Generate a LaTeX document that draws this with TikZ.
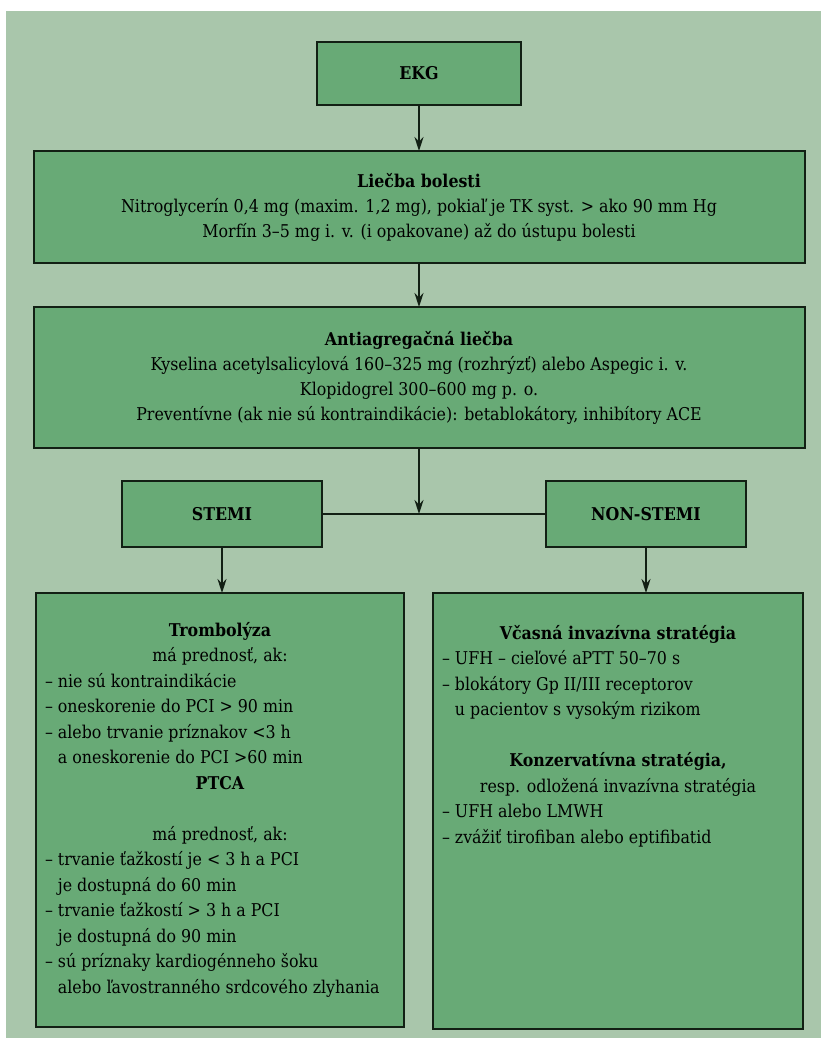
\documentclass[tikz,border=0pt]{standalone}
\usepackage{fontspec}
\setmainfont{DejaVu Serif Condensed}
\usepackage{xcolor}
\usetikzlibrary{arrows.meta}
\definecolor{bgreen}{RGB}{169,198,171}
\definecolor{kgreen}{RGB}{104,170,118}
\definecolor{dline}{RGB}{18,32,20}

\begin{document}
\begin{tikzpicture}[x=1pt,y=-1pt,
  box/.style={draw=dline, line width=2pt, fill=kgreen, inner sep=0pt, outer sep=0pt, align=center, font=\fontsize{17.6}{25}\selectfont},
  txt/.style={inner sep=0pt, outer sep=0pt, font=\fontsize{17.6}{25.5}\selectfont},
  arr/.style={draw=dline, line width=1.8pt, -{Stealth[length=14pt,width=9pt]}}]
\useasboundingbox (0,0) rectangle (821,1038);
\fill[white] (0,0) rectangle (821,1038);
\fill[bgreen] (6,11) rectangle (821,1038);
\node[box, minimum width=204, minimum height=63] (ekg) at (419,73.5) {\textbf{EKG}};
\node[box, minimum width=771, minimum height=112] (liecba) at (419,207) {\textbf{Liečba bolesti}\\
 Nitroglycerín 0,4 mg (maxim. 1,2 mg), pokiaľ je TK syst. > ako 90 mm Hg\\
 Morfín 3–5 mg i. v. (i opakovane) až do ústupu bolesti};
\node[box, minimum width=771, minimum height=141] (anti) at (419,377.5) {\textbf{Antiagregačná liečba}\\
 Kyselina acetylsalicylová 160–325 mg (rozhrýzť) alebo Aspegic i. v.\\
 Klopidogrel 300–600 mg p. o.\\
 Preventívne (ak nie sú kontraindikácie): betablokátory, inhibítory ACE};
\node[box, minimum width=200, minimum height=66] (stemi) at (222,514) {\textbf{STEMI}};
\node[box, minimum width=200, minimum height=66] (nonstemi) at (646,514) {\textbf{NON-STEMI}};
\node[box, minimum width=368, minimum height=434] (trombo) at (220,810) {};
\node[box, minimum width=370, minimum height=436] (vcasna) at (618,811) {};
\node[txt, anchor=base west] (trombotxt) at ([xshift=9pt,yshift=-43pt]trombo.north west) {\parbox[t]{350pt}{%
 \centerline{\textbf{Trombolýza}}
 \centerline{má prednosť, ak:}
 – nie sú kontraindikácie\par
 – oneskorenie do PCI > 90 min\par
 – alebo trvanie príznakov <3 h\par
 \phantom{– }a oneskorenie do PCI >60 min\par
 \centerline{\textbf{PTCA}}
 \mbox{}\par
 \centerline{má prednosť, ak:}
 – trvanie ťažkostí je < 3 h a PCI\par
 \phantom{– }je dostupná do 60 min\par
 – trvanie ťažkostí > 3 h a PCI\par
 \phantom{– }je dostupná do 90 min\par
 – sú príznaky kardiogénneho šoku\par
 \phantom{– }alebo ľavostranného srdcového zlyhania}};
\node[txt, anchor=base west] (vcasnatxt) at ([xshift=9pt,yshift=-46pt]vcasna.north west) {\parbox[t]{352pt}{%
 \centerline{\textbf{Včasná invazívna stratégia}}
 – UFH – cieľové aPTT 50–70 s\par
 – blokátory Gp II/III receptorov\par
 \phantom{– }u pacientov s vysokým rizikom\par
 \mbox{}\par
 \centerline{\textbf{Konzervatívna stratégia,}}
 \centerline{resp. odložená invazívna stratégia}
 – UFH alebo LMWH\par
 – zvážiť tirofiban alebo eptifibatid}};
\coordinate (junc) at (anti.south |- stemi.east);
\draw[arr] (ekg.south) -- (ekg.south |- liecba.north);
\draw[arr] (liecba.south) -- (liecba.south |- anti.north);
\draw[draw=dline, line width=1.8pt] (stemi) -- (nonstemi);
\draw[arr] (anti) -- (junc);
\foreach \a/\b in {stemi/trombo,nonstemi/vcasna}
 \draw[arr] (\a.south) -- (\a.south |- \b.north);
\end{tikzpicture}
\end{document}
